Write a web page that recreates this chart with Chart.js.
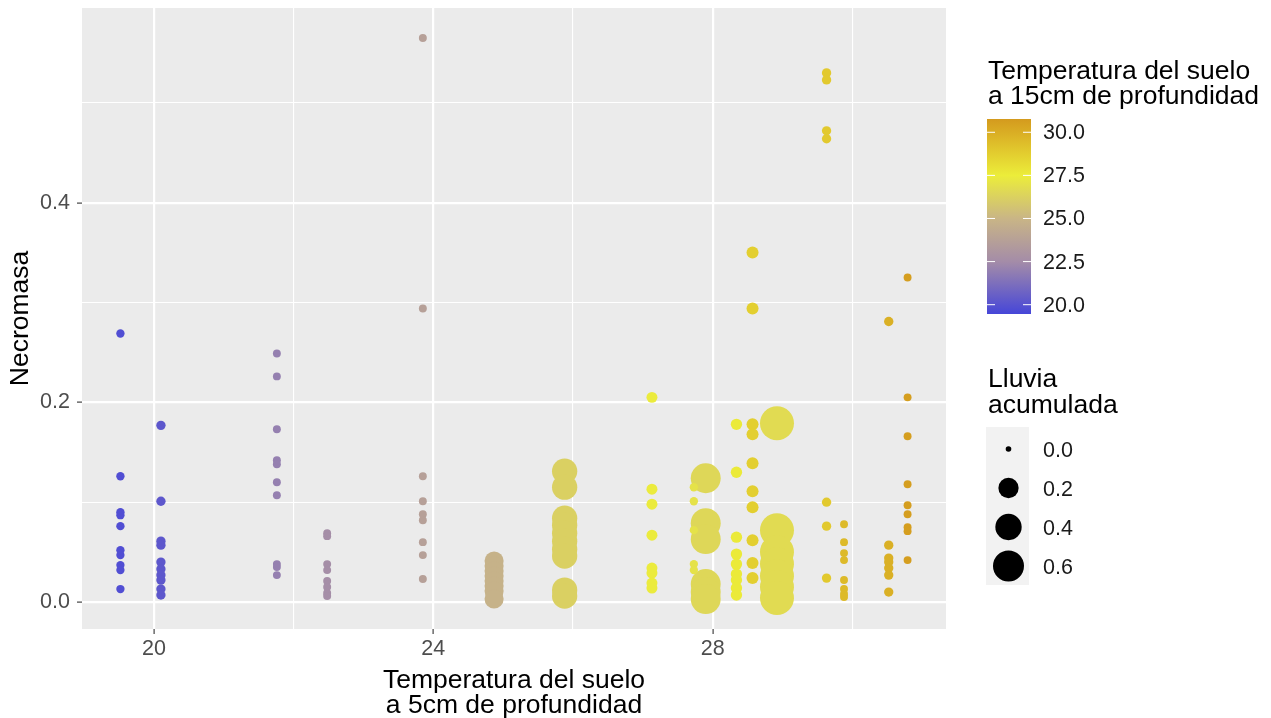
<!DOCTYPE html>
<html lang="es">
<head>
<meta charset="UTF-8">
<title>Necromasa vs temperatura del suelo</title>
<script src="https://cdn.jsdelivr.net/npm/chart.js"></script>
<style>
  * { margin: 0; padding: 0; box-sizing: border-box; }
  body { background: #ffffff; width: 1271px; height: 718px; overflow: hidden; }
  canvas { display: block; }
</style>
</head>
<body>
<canvas id="chart" width="1271" height="718"></canvas>
<script>
// one entry per sampling date (column of points)
const temp5 = [19.52, 20.10, 21.76, 22.48, 23.85, 24.87, 25.88, 27.13, 27.73, 27.90, 28.34, 28.57, 28.92, 29.63, 29.88, 30.52, 30.79];
const temp15 = [19.8, 20.2, 22.0, 22.6, 23.7, 24.8, 26.2, 27.4, 27.0, 26.5, 27.6, 28.7, 26.7, 28.9, 29.5, 29.9, 30.6];
const lluvia = [0.007, 0.013, 0.005, 0.005, 0.005, 0.17, 0.36, 0.027, 0.007, 0.55, 0.031, 0.038, 0.75, 0.013, 0.005, 0.013, 0.005];
const necromasa = [
  [0.269, 0.126, 0.090, 0.087, 0.076, 0.052, 0.047, 0.037, 0.032, 0.013],
  [0.177, 0.101, 0.061, 0.057, 0.040, 0.033, 0.027, 0.022, 0.013, 0.007],
  [0.249, 0.226, 0.173, 0.142, 0.138, 0.120, 0.107, 0.038, 0.035, 0.027],
  [0.069, 0.066, 0.038, 0.032, 0.021, 0.015, 0.009, 0.006],
  [0.565, 0.294, 0.126, 0.101, 0.088, 0.082, 0.060, 0.047, 0.023],
  [0.041, 0.036, 0.031, 0.026, 0.021, 0.016, 0.011, 0.003],
  [0.131, 0.115, 0.084, 0.077, 0.069, 0.061, 0.053, 0.046, 0.012, 0.006],
  [0.205, 0.113, 0.098, 0.067, 0.034, 0.029, 0.019, 0.014],
  [0.115, 0.101, 0.072, 0.038, 0.032],
  [0.124, 0.079, 0.063, 0.018, 0.010, 0.003],
  [0.178, 0.130, 0.065, 0.048, 0.038, 0.028, 0.022, 0.014, 0.007],
  [0.350, 0.294, 0.178, 0.168, 0.139, 0.111, 0.095, 0.062, 0.039, 0.024],
  [0.179, 0.072, 0.050, 0.038, 0.026, 0.015, 0.004],
  [0.530, 0.523, 0.472, 0.464, 0.100, 0.076, 0.024],
  [0.078, 0.060, 0.049, 0.042, 0.022, 0.013, 0.008, 0.005],
  [0.281, 0.057, 0.044, 0.040, 0.034, 0.027, 0.010],
  [0.325, 0.205, 0.166, 0.118, 0.097, 0.088, 0.075, 0.071, 0.042]
];

const xTicks = [20, 24, 28];
const yTicks = [0.0, 0.2, 0.4];
const tempBreaks = [20.0, 22.5, 25.0, 27.5, 30.0];
const lluviaBreaks = [0.0, 0.2, 0.4, 0.6];

// colour scale (temp 15cm) and size scale (lluvia)
const colorStopTemps = [19.46, 22.5, 25.0, 27.5, 30.77];
const colorStopHex = ['#4646d8', '#a48ca8', '#c9b586', '#eced3a', '#d49a1e'];
const FONT = '"Liberation Sans", Arial, sans-serif';

function hexToRgb(h) {
  return [1, 3, 5].map(i => parseInt(h.substr(i, 2), 16));
}

function colorAt(t) {
  const n = colorStopTemps.length;
  if (t <= colorStopTemps[0]) return colorStopHex[0];
  if (t >= colorStopTemps[n - 1]) return colorStopHex[n - 1];
  let i = 0;
  while (t > colorStopTemps[i + 1]) i++;
  const f = (t - colorStopTemps[i]) / (colorStopTemps[i + 1] - colorStopTemps[i]);
  const a = hexToRgb(colorStopHex[i]);
  const b = hexToRgb(colorStopHex[i + 1]);
  const c = a.map((v, k) => Math.round(v + (b[k] - v) * f));
  return `rgb(${c[0]}, ${c[1]}, ${c[2]})`;
}

function sizeAt(v) {
  return 2.8 + 16.4 * Math.sqrt(v);
}

const datasets = temp5.map((x, i) => ({
  data: necromasa[i].map(y => ({ x: x, y: y })),
  pointRadius: sizeAt(lluvia[i]),
  pointHoverRadius: sizeAt(lluvia[i]),
  pointBackgroundColor: colorAt(temp15[i]),
  pointBorderWidth: 0,
  showLine: false
}));

const isMajorX = v => xTicks.includes(v);
const isMajorY = v => yTicks.some(t => Math.abs(t - v) < 1e-6);

// grey panel behind the points
const panelBg = {
  id: 'panelBg',
  beforeDraw(chart) {
    const { ctx, chartArea: a } = chart;
    ctx.save();
    ctx.fillStyle = '#ebebeb';
    ctx.fillRect(a.left, a.top, a.right - a.left, a.bottom - a.top);
    ctx.restore();
  }
};

// colourbar + size legend on the right
const sideLegends = {
  id: 'sideLegends',
  afterDraw(chart) {
    const ctx = chart.ctx;
    ctx.save();
    ctx.textAlign = 'left';
    ctx.textBaseline = 'middle';
    ctx.fillStyle = '#000000';
    ctx.font = '26.5px ' + FONT;
    ctx.fillText('Temperatura del suelo', 988, 72);
    ctx.fillText('a 15cm de profundidad', 988, 97);

    const barX = 987, barW = 44, barTop = 119, barBot = 314;
    const lo = colorStopTemps[0], hi = colorStopTemps[colorStopTemps.length - 1];
    const grad = ctx.createLinearGradient(0, barBot, 0, barTop);
    colorStopTemps.forEach((t, i) => grad.addColorStop((t - lo) / (hi - lo), colorStopHex[i]));
    ctx.fillStyle = grad;
    ctx.fillRect(barX, barTop, barW, barBot - barTop);

    ctx.font = '21.5px ' + FONT;
    tempBreaks.forEach(b => {
      const y = barBot - (b - lo) / (hi - lo) * (barBot - barTop);
      ctx.strokeStyle = '#ffffff';
      ctx.lineWidth = 1;
      ctx.beginPath();
      ctx.moveTo(barX, y); ctx.lineTo(barX + 8, y);
      ctx.moveTo(barX + barW - 8, y); ctx.lineTo(barX + barW, y);
      ctx.stroke();
      ctx.fillStyle = '#1a1a1a';
      ctx.fillText(b.toFixed(1), 1043, y + 1);
    });

    ctx.fillStyle = '#000000';
    ctx.font = '26.5px ' + FONT;
    ctx.fillText('Lluvia', 988, 380);
    ctx.fillText('acumulada', 988, 406);

    ctx.fillStyle = '#f2f2f2';
    ctx.fillRect(986, 427, 43, 158);
    ctx.font = '21.5px ' + FONT;
    lluviaBreaks.forEach((b, i) => {
      const y = 449 + i * 39;
      ctx.fillStyle = '#000000';
      ctx.beginPath();
      ctx.arc(1008.5, y, sizeAt(b), 0, Math.PI * 2);
      ctx.fill();
      ctx.fillStyle = '#1a1a1a';
      ctx.fillText(b.toFixed(1), 1043, y + 2);
    });
    ctx.restore();
  }
};

Chart.defaults.font.family = FONT;

new Chart(document.getElementById('chart').getContext('2d'), {
  type: 'scatter',
  data: { datasets: datasets },
  options: {
    responsive: false,
    animation: false,
    events: [],
    layout: { autoPadding: false, padding: { left: 0, right: 325, top: 8, bottom: 0 } },
    plugins: { legend: { display: false }, tooltip: { enabled: false } },
    scales: {
      x: {
        type: 'linear',
        min: 18.97,
        max: 31.34,
        afterFit: s => { s.height = 89; s.paddingLeft = 0; s.paddingRight = 0; },
        border: { display: false },
        grid: {
          color: '#ffffff',
          lineWidth: c => (c.tick && isMajorX(c.tick.value) ? 2.2 : 1.1),
          tickLength: 5,
          tickWidth: 1.1,
          tickColor: c => (c.tick && isMajorX(c.tick.value) ? '#333333' : 'rgba(0,0,0,0)')
        },
        ticks: {
          stepSize: 2,
          includeBounds: false,
          autoSkip: false,
          maxRotation: 0,
          padding: 2,
          color: '#4d4d4d',
          font: { size: 21.5 },
          callback: v => (isMajorX(v) ? String(v) : '')
        },
        title: {
          display: true,
          text: ['Temperatura del suelo', 'a 5cm de profundidad'],
          color: '#000000',
          font: { size: 26.5, lineHeight: 25 / 26.5 },
          padding: { top: 0, bottom: 0 }
        }
      },
      y: {
        type: 'linear',
        min: -0.027,
        max: 0.595,
        afterFit: s => { s.width = 82; s.paddingTop = 0; s.paddingBottom = 0; },
        border: { display: false },
        grid: {
          color: '#ffffff',
          lineWidth: c => (c.tick && isMajorY(c.tick.value) ? 2.2 : 1.1),
          tickLength: 5,
          tickWidth: 1.1,
          tickColor: c => (c.tick && isMajorY(c.tick.value) ? '#333333' : 'rgba(0,0,0,0)')
        },
        ticks: {
          stepSize: 0.1,
          includeBounds: false,
          autoSkip: false,
          padding: 7,
          color: '#4d4d4d',
          font: { size: 21.5 },
          callback: v => (isMajorY(v) ? v.toFixed(1) : '')
        },
        title: {
          display: true,
          text: 'Necromasa',
          color: '#000000',
          font: { size: 26.5 },
          padding: { top: 5, bottom: 0 }
        }
      }
    }
  },
  plugins: [panelBg, sideLegends]
});
</script>
</body>
</html>
